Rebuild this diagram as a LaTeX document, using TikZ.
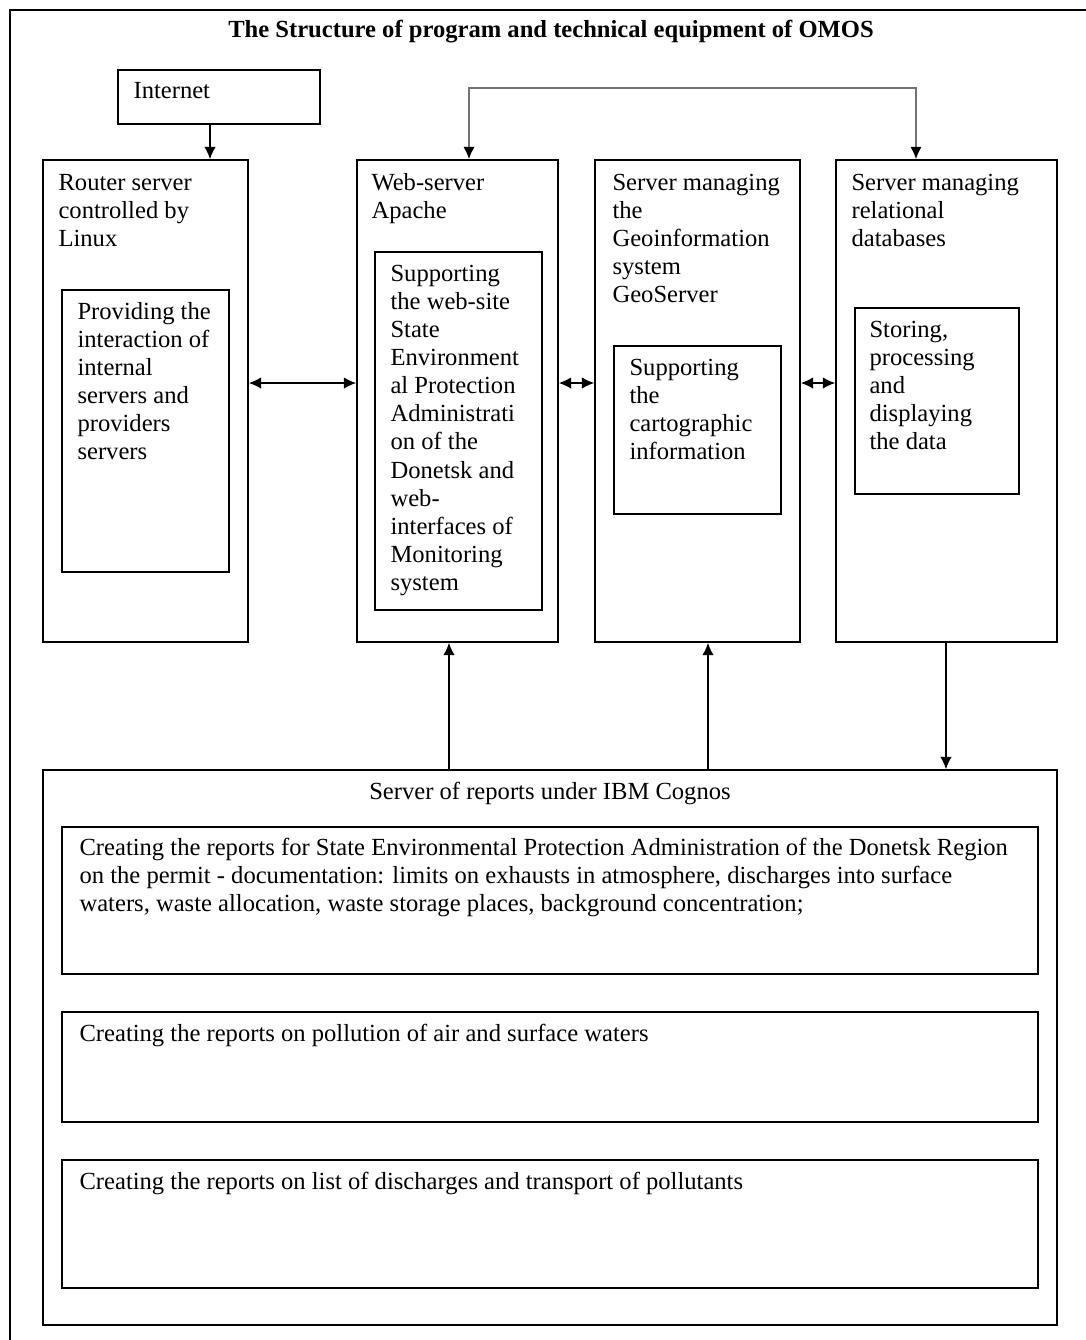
\documentclass[tikz,border=0pt]{standalone}
\usepackage{fontspec}
\setmainfont{Liberation Serif}
\usetikzlibrary{arrows.meta,fit}

\tikzset{
	box/.style={draw,line width=0.9pt,inner sep=0pt},
	txt/.style={anchor=north west,inner sep=0pt,align=left,font=\fontsize{14}{16}\selectfont},
	arr/.style={line width=0.8pt,-{Latex[length=7pt,width=6.5pt]}},
	dbl/.style={line width=0.8pt,{Latex[length=7pt,width=6.5pt]}-{Latex[length=7pt,width=6.5pt]}},
}

\begin{document}
\begin{tikzpicture}[x=0.02cm,y=-0.02cm]
	\useasboundingbox (0,0) rectangle (1086,1340);
	\draw[line width=0.8pt] (10,1340) -- (10,10) -- (1086,10);
	\node[anchor=base,inner sep=0pt,font=\bfseries\fontsize{14}{16}\selectfont] (title) at (551,37)
		{The Structure of program and technical equipment of OMOS};

	% servers
	\node[box,fit={(118,70) (320,124)}] (internet) {};
	\node[box,fit={(43,160) (248,642)}] (router) {};
	\node[box,fit={(62,290) (229,572)}] (routerin) {};
	\node[box,fit={(357,160) (558,642)}] (web) {};
	\node[box,fit={(375,252) (542,610)}] (webin) {};
	\node[box,fit={(595,160) (800,642)}] (geo) {};
	\node[box,fit={(614,346) (781,514)}] (geoin) {};
	\node[box,fit={(836,160) (1057,642)}] (db) {};
	\node[box,fit={(855,308) (1019,494)}] (dbin) {};

	\node[txt] (internettxt) at ([shift={(16,9)}]internet.north west) {\strut Internet};
	\node[txt] (routertxt) at ([shift={(16,11)}]router.north west)
		{\strut Router server\\controlled by\\Linux};
	\node[txt] (routerintxt) at ([shift={(16,10)}]routerin.north west)
		{\strut Providing the\\interaction of\\internal\\servers and\\providers\\servers};
	\node[txt] (webtxt) at ([shift={(15,11)}]web.north west)
		{\strut Web-server\\Apache};
	\node[txt] (webintxt) at ([shift={(16,10)}]webin.north west)
		{\strut Supporting\\the web-site\\State\\Environment\\al Protection\\Administrati\\on of the\\Donetsk and\\web-\\interfaces of\\Monitoring\\system};
	\node[txt] (geotxt) at ([shift={(18,11)}]geo.north west)
		{\strut Server managing\\the\\Geoinformation\\system\\GeoServer};
	\node[txt] (geointxt) at ([shift={(16,10)}]geoin.north west)
		{\strut Supporting\\the\\cartographic\\information};
	\node[txt] (dbtxt) at ([shift={(16,11)}]db.north west)
		{\strut Server managing\\relational\\databases};
	\node[txt] (dbintxt) at ([shift={(15,10)}]dbin.north west)
		{\strut Storing,\\processing\\and\\displaying\\the data};

	% reports
	\node[box,fit={(43,770) (1057,1325)}] (reports) {};
	\node[box,fit={(62,827) (1038,974)}] (rep1) {};
	\node[box,fit={(62,1012) (1038,1122)}] (rep2) {};
	\node[box,fit={(62,1160) (1038,1288)}] (rep3) {};

	\node[anchor=base,inner sep=0pt,font=\fontsize{14}{16}\selectfont] (reportstxt)
		at ([shift={(0,30)}]reports.north) {Server of reports under IBM Cognos};
	\node[txt] (rep1txt) at ([shift={(18,9)}]rep1.north west)
		{\strut Creating the reports for State Environmental Protection Administration of the Donetsk Region\\on the permit - documentation: limits on exhausts in atmosphere, discharges into surface\\waters, waste allocation, waste storage places, background concentration;};
	\node[txt] (rep2txt) at ([shift={(18,10)}]rep2.north west)
		{\strut Creating the reports on pollution of air and surface waters};
	\node[txt] (rep3txt) at ([shift={(18,10)}]rep3.north west)
		{\strut Creating the reports on list of discharges and transport of pollutants};

	% connectors
	\path
		(210,124) coordinate (inetdrop)
		(0,383) coordinate (mid)
		(469,88) coordinate (webup)
		(916,88) coordinate (dbup)
		(449,0) coordinate (repweb)
		(708,0) coordinate (repgeo)
		(946,0) coordinate (repdb)
		;

	\draw[arr] (inetdrop) -- (inetdrop |- router.north);
	\draw[line width=1.2pt,black!55,-{Latex[length=7pt,width=6.5pt,black]}]
		(webup) -- (dbup) -- (dbup |- db.north);
	\draw[line width=1.2pt,black!55,-{Latex[length=7pt,width=6.5pt,black]}]
		(dbup) -- (webup) -- (webup |- web.north);
	\draw[dbl] (router.east |- mid) -- (web.west |- mid);
	\draw[dbl] (web.east |- mid) -- (geo.west |- mid);
	\draw[dbl] (geo.east |- mid) -- (db.west |- mid);
	\draw[arr] (repweb |- reports.north) -- (repweb |- web.south);
	\draw[arr] (repgeo |- reports.north) -- (repgeo |- geo.south);
	\draw[arr] (repdb |- db.south) -- (repdb |- reports.north);
\end{tikzpicture}
\end{document}
